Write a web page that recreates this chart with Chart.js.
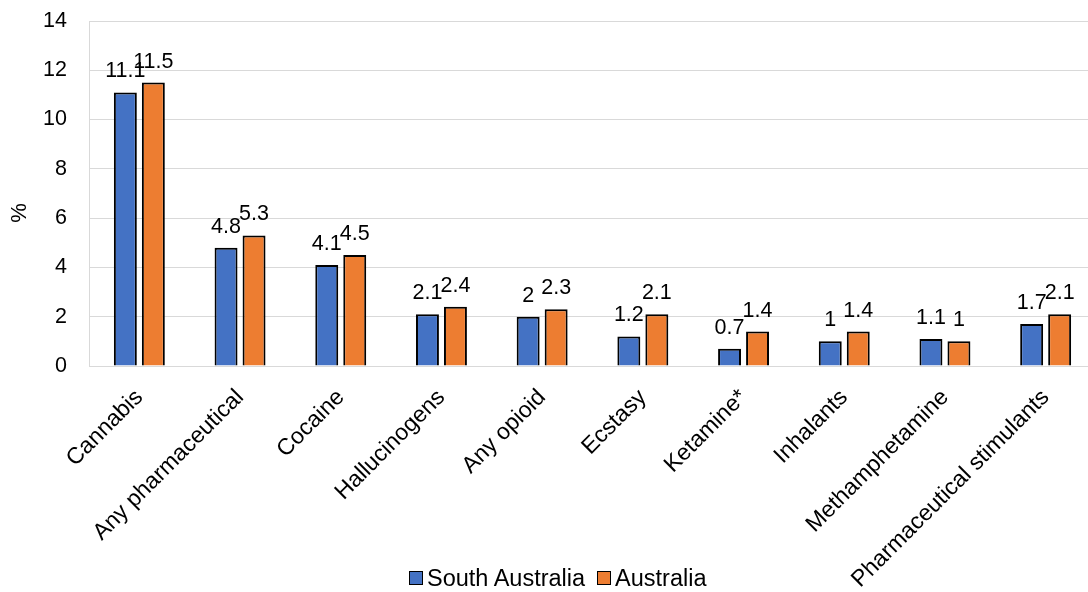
<!DOCTYPE html>
<html>
<head>
<meta charset="utf-8">
<script src="https://cdn.jsdelivr.net/npm/chart.js@4"></script>
<style>
  html, body { margin: 0; padding: 0; background: #fff; overflow: hidden; }
  #wrap { position: relative; width: 1096px; height: 592px; }
  #legend {
    position: absolute; left: 409px; top: 564px; height: 28px;
    display: flex; align-items: center;
    font: 23.5px "Liberation Sans", Arial, sans-serif; color: #000;
  }
  #legend .item { display: flex; align-items: center; margin-right: 12px; }
  #legend .box { width: 12px; height: 12px; border: 1px solid #000; margin-right: 4px; }
</style>
</head>
<body>
<div id="wrap">
  <canvas id="chart" width="1096" height="592"></canvas>
  <div id="legend"></div>
</div>
<script>
/* ── 데이터 ── */
const categories = ['Cannabis', 'Any pharmaceutical', 'Cocaine', 'Hallucinogens', 'Any opioid',
  'Ecstasy', 'Ketamine*', 'Inhalants', 'Methamphetamine', 'Pharmaceutical stimulants'];
const southAustralia = [11.1, 4.8, 4.1, 2.1, 2, 1.2, 0.7, 1, 1.1, 1.7];
const australia      = [11.5, 5.3, 4.5, 2.4, 2.3, 2.1, 1.4, 1.4, 1, 2.1];
const seriesNames  = ['South Australia', 'Australia'];
const seriesColors = ['#4472C4', '#ED7D31'];

const FONT = '"Liberation Sans", Arial, sans-serif';
const gridColor = '#D9D9D9';

// 막대 위 값 표시
const valueLabels = {
  id: 'valueLabels',
  afterDatasetsDraw(chart) {
    const ctx = chart.ctx;
    ctx.save();
    ctx.font = '21.5px ' + FONT;
    ctx.fillStyle = '#000';
    ctx.textAlign = 'center';
    ctx.textBaseline = 'alphabetic';
    chart.data.datasets.forEach((ds, i) => {
      chart.getDatasetMeta(i).data.forEach((bar, j) => {
        ctx.fillText(String(ds.data[j]), bar.x, bar.y - 15);
      });
    });
    ctx.restore();
  }
};

// y축 제목 "%"
const yTitle = {
  id: 'yTitle',
  afterDraw(chart) {
    const ctx = chart.ctx;
    ctx.save();
    ctx.translate(20, 213);
    ctx.rotate(-Math.PI / 2);
    ctx.font = '22px ' + FONT;
    ctx.fillStyle = '#000';
    ctx.textAlign = 'center';
    ctx.textBaseline = 'middle';
    ctx.fillText('%', 0, 0);
    ctx.restore();
  }
};

new Chart(document.getElementById('chart'), {
  type: 'bar',
  data: {
    labels: categories,
    datasets: [southAustralia, australia].map((d, i) => ({
      label: seriesNames[i],
      data: d,
      backgroundColor: seriesColors[i],
      borderColor: '#000',
      borderWidth: 2,
      borderSkipped: 'bottom',
      categoryPercentage: 0.556,
      barPercentage: 0.82
    }))
  },
  options: {
    responsive: false,
    animation: false,
    layout: { padding: { top: 21, left: 0, right: 0, bottom: 0 } },
    plugins: { legend: { display: false }, tooltip: { enabled: false } },
    scales: {
      x: {
        grid: { display: false },
        border: { color: gridColor },
        ticks: {
          color: '#000', font: { size: 23, family: FONT },
          minRotation: 45, maxRotation: 45, padding: 10, autoSkip: false
        },
        afterFit(scale) { scale.height = 226; }
      },
      y: {
        min: 0, max: 14,
        grid: { color: gridColor, tickLength: 22, tickColor: 'rgba(0,0,0,0)' },
        border: { color: gridColor },
        ticks: { stepSize: 2, color: '#000', font: { size: 21.5, family: FONT }, padding: 0 },
        afterFit(scale) { scale.width = 89; }
      }
    }
  },
  plugins: [valueLabels, yTitle]
});

// 범례
const legend = document.getElementById('legend');
seriesNames.forEach((name, i) => {
  const item = document.createElement('div');
  item.className = 'item';
  item.innerHTML = `<span class="box" style="background:${seriesColors[i]}"></span><span>${name}</span>`;
  legend.appendChild(item);
});
</script>
</body>
</html>
